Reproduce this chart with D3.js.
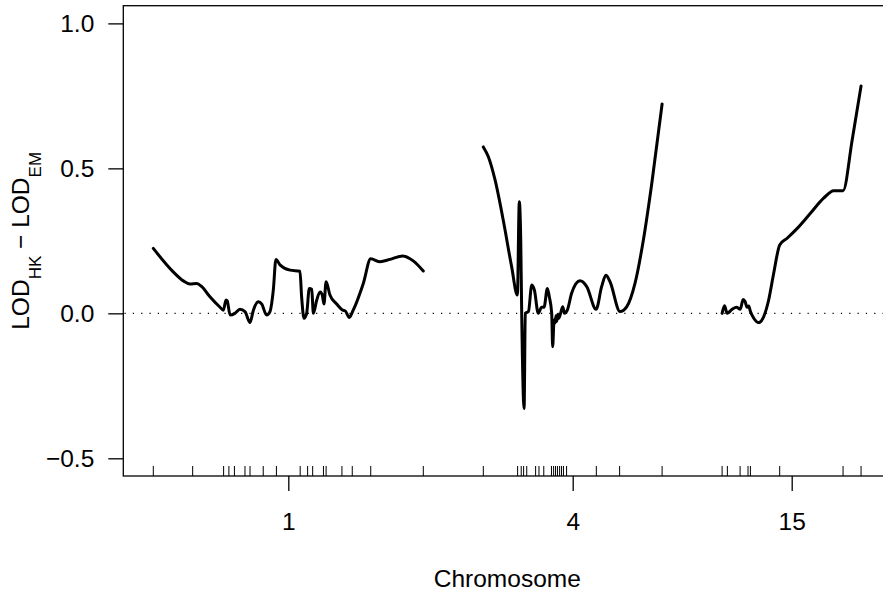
<!DOCTYPE html>
<html>
<head>
<meta charset="utf-8">
<script src="https://cdn.jsdelivr.net/npm/d3@7"></script>
<style>
  html, body { margin: 0; padding: 0; background: #fff; }
  svg { display: block; }
  text { font-family: "Liberation Sans", Arial, Helvetica, sans-serif; fill: #000; }
</style>
</head>
<body>
<svg id="chart" width="883" height="594"></svg>
<script>
// ---------------- data ----------------
const chromosomes = ["1", "4", "15"];
const chrLengths = [112.5, 74.5, 58.0];           // cM
const chrGap = 25;                                // cM between chromosomes

const markers1  = [0, 16.4, 29.3, 31.5, 33.8, 38.2, 40.3, 45.8, 51.3, 61.2, 64.3, 66.4, 70.9, 72.0, 78.6, 82.9, 90.6, 112.5];
const markers4  = [0, 14.3, 15.8, 16.8, 18.1, 21.8, 23.2, 25.2, 28.4, 29.3, 30.1, 30.9, 31.8, 32.6, 33.4, 34.7, 47.1, 56.8, 74.5];
const markers15 = [0, 2.2, 7.5, 10.8, 11.8, 24.0, 50.4, 57.9];

const pos1 = [0, 8.3, 12.5, 15.3, 18.1, 20.2, 23.6, 27.8, 29.2, 30.3, 30.8, 32.0, 34.0, 36.1, 38.2, 40.3, 41.7, 43.8, 45.2, 47.2, 48.6, 50.0, 51.1, 52.8, 57.0, 61.1, 61.8, 62.8, 63.9, 65.0, 66.0, 66.7, 68.1, 69.5, 70.4, 71.1, 72.0, 73.6, 76.4, 78.9, 79.9, 81.7, 83.3, 87.5, 90.6, 94.5, 98.6, 103.9, 108.3, 112.5];
const diff1 = [0.224, 0.143, 0.112, 0.101, 0.103, 0.092, 0.057, 0.021, 0.011, 0.046, 0.043, -0.006, 0.000, 0.014, 0.006, -0.032, 0.011, 0.040, 0.032, -0.006, 0.006, 0.080, 0.186, 0.167, 0.149, 0.145, 0.057, -0.017, 0.000, 0.086, 0.083, 0.000, 0.046, 0.074, 0.063, 0.032, 0.109, 0.063, 0.032, 0.011, 0.009, -0.014, 0.011, 0.103, 0.188, 0.178, 0.186, 0.198, 0.181, 0.146];

const pos4 = [0, 2.1, 4.9, 8.3, 11.8, 14.2, 15.0, 15.6, 16.0, 17.0, 17.5, 18.8, 20.2, 21.3, 22.9, 24.3, 25.3, 26.7, 27.5, 28.5, 28.9, 29.5, 29.9, 30.3, 30.6, 31.0, 31.4, 32.0, 33.1, 33.8, 35.0, 36.8, 40.3, 43.1, 47.0, 49.3, 51.1, 52.8, 57.0, 59.8, 63.2, 66.7, 70.2, 74.5];
const diff4 = [0.574, 0.540, 0.460, 0.322, 0.161, 0.063, 0.385, 0.253, 0.000, -0.328, 0.000, 0.006, 0.098, 0.080, 0.000, 0.021, 0.021, 0.086, 0.057, 0.000, -0.115, -0.023, -0.034, -0.008, -0.028, -0.004, -0.018, -0.006, 0.023, 0.000, 0.011, 0.069, 0.112, 0.092, 0.014, 0.092, 0.131, 0.109, 0.006, 0.023, 0.103, 0.253, 0.448, 0.722];

const pos15 = [0, 1.0, 2.1, 4.2, 6.0, 7.6, 8.75, 9.6, 10.4, 11.1, 11.8, 13.2, 15.2, 17.3, 19.4, 21.5, 24.0, 27.1, 31.3, 36.8, 42.3, 46.5, 50.4, 54.2, 57.9];
const diff15 = [0.000, 0.026, 0.000, 0.014, 0.021, 0.014, 0.048, 0.040, 0.021, 0.025, 0.006, -0.017, -0.032, -0.012, 0.046, 0.138, 0.236, 0.259, 0.293, 0.345, 0.397, 0.423, 0.423, 0.598, 0.784];

const yTicks = [-0.5, 0, 0.5, 1.0];
const yTickLabels = ["\u22120.5", "0.0", "0.5", "1.0"];
const xLabel = "Chromosome";

// ---------------- layout ----------------
const svg = d3.select("#chart");
const fontSize = 24.5;

// chromosome offsets
const offsets = [];
let acc = 0;
chrLengths.forEach((L, i) => { offsets.push(acc); acc += L + chrGap; });
const totalEnd = offsets[offsets.length - 1] + chrLengths[chrLengths.length - 1];

const x = d3.scaleLinear()
  .domain([-chrGap / 2, totalEnd + chrGap / 2])
  .range([123.3, 123.3 + (totalEnd + chrGap) * 2.4]);
const y = d3.scaleLinear().domain([-0.561, 1.061]).range([476, 5.7]);

const [x0, x1] = x.range();
const [yb, yt] = y.range();

// zero reference (dotted)
svg.append("line")
  .attr("x1", x0).attr("x2", x1)
  .attr("y1", y(0)).attr("y2", y(0))
  .attr("stroke", "#000").attr("stroke-width", 1.2)
  .attr("stroke-dasharray", "1.2 7.13")
  .attr("stroke-dashoffset", -1.2);

// curves
const allPos = [pos1, pos4, pos15];
const allDiff = [diff1, diff4, diff15];
const line = d3.line()
  .x(d => x(d[0])).y(d => y(d[1]))
  .curve(d3.curveMonotoneX);
allPos.forEach((p, i) => {
  const pts = p.map((v, j) => [offsets[i] + v, allDiff[i][j]]);
  svg.append("path")
    .attr("d", line(pts))
    .attr("fill", "none").attr("stroke", "#000")
    .attr("stroke-width", 3).attr("stroke-linejoin", "round").attr("stroke-linecap", "round");
});

// rug of markers
const allMarkers = [markers1, markers4, markers15];
allMarkers.forEach((m, i) => {
  svg.append("g").selectAll("line").data(m).join("line")
    .attr("x1", d => x(offsets[i] + d)).attr("x2", d => x(offsets[i] + d))
    .attr("y1", yb).attr("y2", yb - 10)
    .attr("stroke", "#000").attr("stroke-width", 1);
});

// box
svg.append("rect")
  .attr("x", x0).attr("y", yt)
  .attr("width", x1 - x0).attr("height", yb - yt)
  .attr("fill", "none").attr("stroke", "#000").attr("stroke-width", 1.3);

// y axis
const yAxis = d3.axisLeft(y)
  .tickValues(yTicks)
  .tickFormat((d, i) => yTickLabels[i])
  .tickSize(15).tickPadding(14);
const gy = svg.append("g").attr("transform", `translate(${x0},0)`).call(yAxis);
gy.select(".domain").remove();
gy.selectAll("line").attr("stroke-width", 1.3);
gy.selectAll("text").attr("font-size", fontSize).attr("font-family", null).attr("dy", "0.35em");

// x axis (chromosome labels)
const mids = chrLengths.map((L, i) => offsets[i] + L / 2);
const xAxis = d3.axisBottom(x)
  .tickValues(mids)
  .tickFormat((d, i) => chromosomes[i])
  .tickSize(15).tickPadding(21.5);
const gx = svg.append("g").attr("transform", `translate(0,${yb})`).call(xAxis);
gx.select(".domain").remove();
gx.selectAll("line").attr("stroke-width", 1.3);
gx.selectAll("text").attr("font-size", fontSize).attr("font-family", null);

// x label
svg.append("text")
  .attr("x", (x0 + x1) / 2).attr("y", 586.7)
  .attr("text-anchor", "middle").attr("font-size", fontSize)
  .text(xLabel);

// y label with subscripts
const yl = svg.append("text")
  .attr("transform", `translate(29.3,${(yt + yb) / 2}) rotate(-90)`)
  .attr("text-anchor", "middle").attr("font-size", fontSize);
yl.append("tspan").text("LOD");
yl.append("tspan").attr("font-size", 17).attr("dy", 12).text("HK");
yl.append("tspan").attr("dy", -12).text(" \u2212 LOD");
yl.append("tspan").attr("font-size", 17).attr("dy", 12).text("EM");
</script>
</body>
</html>
